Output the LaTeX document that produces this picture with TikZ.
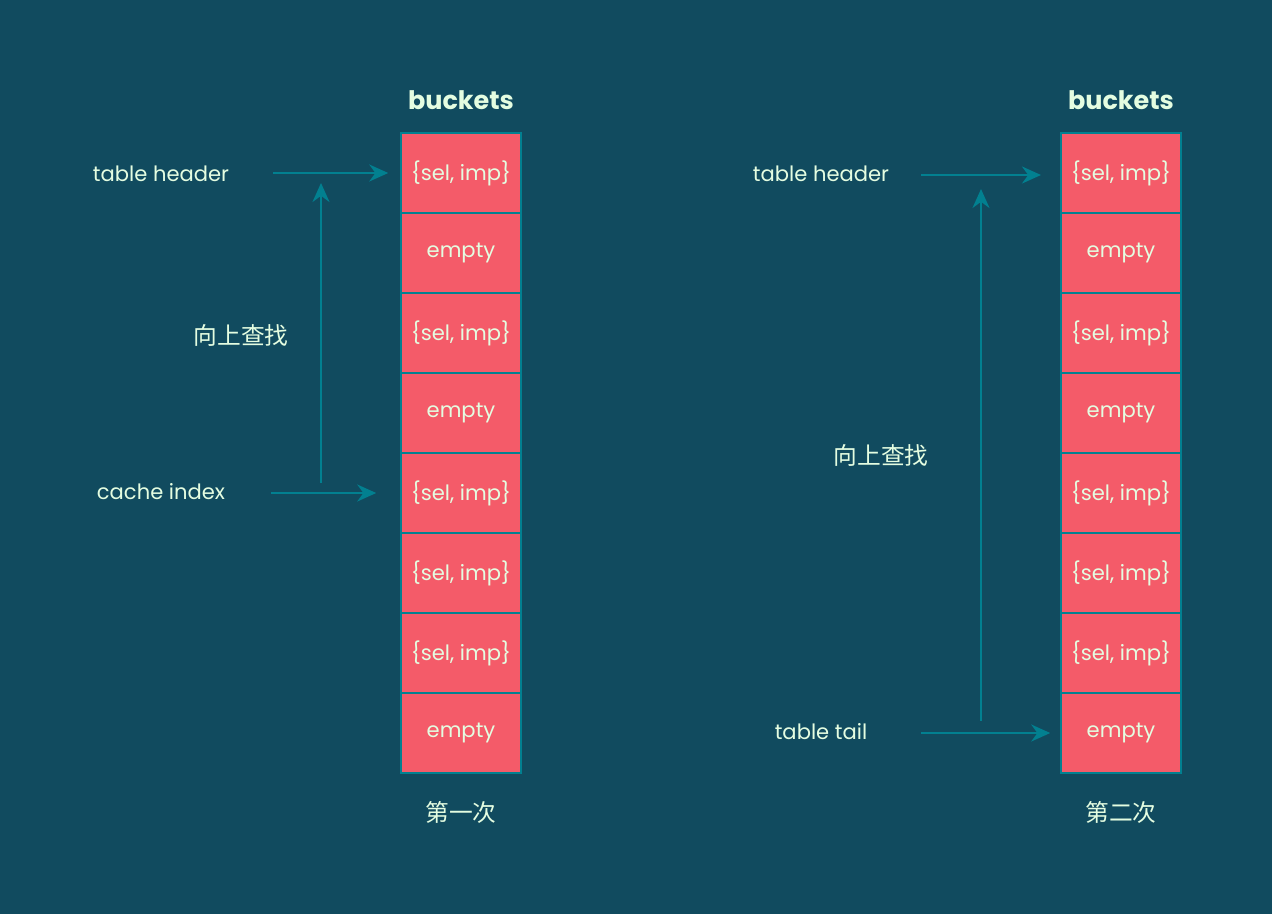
\documentclass[tikz,border=0pt]{standalone}
\usepackage{fontspec}
\setmainfont{Poppins}
\newfontfamily\cjkfont{Noto Sans CJK SC}
\usepackage{xcolor}
\usepackage{tikz}
\usetikzlibrary{arrows.meta,positioning}
\definecolor{bgnavy}{RGB}{17,75,95}
\definecolor{slotred}{RGB}{244,91,105}
\definecolor{mintext}{RGB}{228,253,225}
\definecolor{tealline}{RGB}{2,128,144}

\begin{document}
\begin{tikzpicture}[
  x=0.02cm,y=-0.02cm,
  font=\fontsize{12}{14}\selectfont,
  slot/.style={draw=tealline,line width=0.9pt,fill=slotred,text=mintext,
    minimum width=2.4cm,minimum height=1.6cm,inner sep=0pt},
  lbl/.style={text=mintext},
  title/.style={text=mintext,font=\fontsize{14.5}{16}\selectfont\bfseries},
  cjk/.style={text=mintext,font=\cjkfont\fontsize{13.5}{15}\selectfont},
  arr/.style={-{Stealth[length=0.38cm,width=0.34cm]},draw=tealline,line width=1.1pt}
]
  \fill[bgnavy] (0,0) rectangle (1272,914);

  % first search
  \node[title] (ltitle) at (461,100) {buckets};
  \node[slot] (l1) at (461,173) {\{sel, imp\}};
  \node[slot] (l2) at (461,253) {empty};
  \node[slot] (l3) at (461,333) {\{sel, imp\}};
  \node[slot] (l4) at (461,413) {empty};
  \node[slot] (l5) at (461,493) {\{sel, imp\}};
  \node[slot] (l6) at (461,573) {\{sel, imp\}};
  \node[slot] (l7) at (461,653) {\{sel, imp\}};
  \node[slot] (l8) at (461,733) {empty};
  \node[cjk] (lround) at (461,812) {第一次};

  \node[lbl] (lhead) at (161,174) {table header};
  \node[lbl] (lindex) at (161,492) {cache index};
  \node[cjk] (lup) at (241,335) {向上查找};
  \coordinate (lheadfrom) at (273,173);
  \coordinate (lindexfrom) at (271,493);
  \coordinate (lupfrom) at (321,483);
  \coordinate (lupto) at (321,183);
  \draw[arr,shorten >=0.24cm] (lheadfrom) -- (l1);
  \draw[arr,shorten >=0.48cm] (lindexfrom) -- (l5);
  \draw[arr] (lupfrom) -- (lupto);

  % second search
  \node[title] (rtitle) at (1121,100) {buckets};
  \node[slot] (r1) at (1121,173) {\{sel, imp\}};
  \node[slot] (r2) at (1121,253) {empty};
  \node[slot] (r3) at (1121,333) {\{sel, imp\}};
  \node[slot] (r4) at (1121,413) {empty};
  \node[slot] (r5) at (1121,493) {\{sel, imp\}};
  \node[slot] (r6) at (1121,573) {\{sel, imp\}};
  \node[slot] (r7) at (1121,653) {\{sel, imp\}};
  \node[slot] (r8) at (1121,733) {empty};
  \node[cjk] (rround) at (1121,812) {第二次};

  \node[lbl] (rhead) at (821,174) {table header};
  \node[lbl] (rtail) at (821,732) {table tail};
  \node[cjk] (rup) at (881,455) {向上查找};
  \coordinate (rheadfrom) at (921,175);
  \coordinate (rheadto) at (1041,175);
  \coordinate (rtailfrom) at (921,733);
  \coordinate (rupfrom) at (981,721);
  \coordinate (rupto) at (981,189);
  \draw[arr] (rheadfrom) -- (rheadto);
  \draw[arr,shorten >=0.2cm] (rtailfrom) -- (r8);
  \draw[arr] (rupfrom) -- (rupto);
\end{tikzpicture}
\end{document}
